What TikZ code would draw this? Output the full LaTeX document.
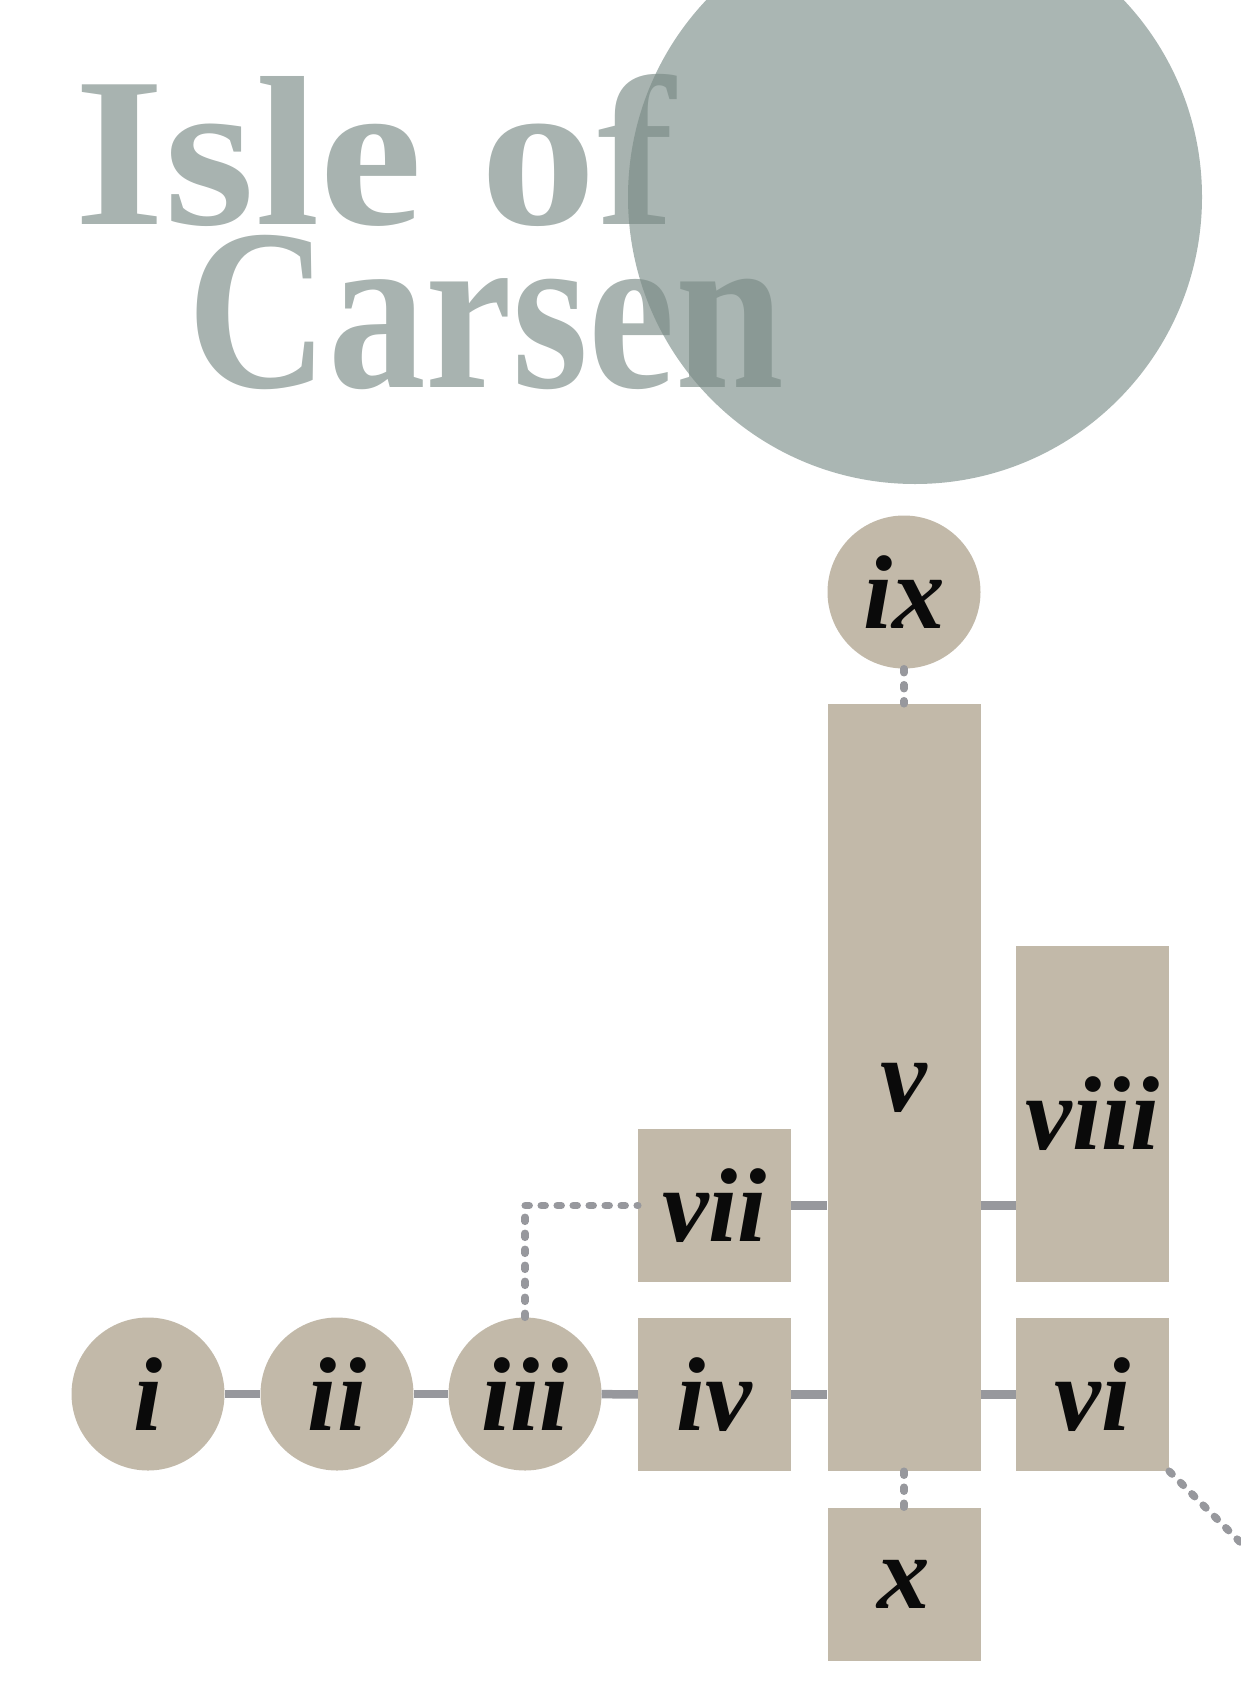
\documentclass[tikz,border=0pt]{standalone}
\usepackage{fontspec}
\setmainfont{Liberation Serif}
\usepackage{graphicx}
\definecolor{nodefill}{RGB}{194,185,169}
\definecolor{linegray}{RGB}{151,152,157}
\definecolor{sea}{RGB}{170,182,179}
\definecolor{titlecol}{RGB}{121,138,133}
\definecolor{ink}{RGB}{10,10,10}
\newcommand\lblfont{\fontsize{105}{105}\selectfont\bfseries\itshape}
\begin{document}
\begin{tikzpicture}[x=1pt,y=-1pt,
  circ/.style={circle, fill=nodefill, minimum size=153pt, inner sep=0pt, font=\lblfont, text=ink},
  sq/.style={rectangle, fill=nodefill, minimum width=153pt, minimum height=153pt, inner sep=0pt, font=\lblfont, text=ink},
  link/.style={draw=linegray, line width=8.5pt},
  dots/.style={draw=linegray, line width=7.5pt, line cap=round, dash pattern=on 4pt off 12pt},
  titletext/.style={anchor=base west, inner sep=0pt, text=titlecol, text opacity=0.65}]
\useasboundingbox (0,0) rectangle (1240,1705);
\fill[sea] (915,197) circle (287);
\node[titletext] (t1) at (74,224) {\resizebox{600pt}{150pt}{\bfseries Isle of}};
\node[titletext] (t2) at (187,387) {\resizebox{596pt}{152pt}{\bfseries Carsen}};
% nodes
\node[circ] (n1) at (148,1394) {i};
\node[circ] (n2) at (337,1394) {ii};
\node[circ] (n3) at (525,1394) {iii};
\node[sq] (n4) at (714.5,1394.5) {iv};
\node[sq] (n7) at (714.5,1205.5) {vii};
\node[sq, minimum height=767pt] (n5) at (904,1087.5) {v};
\node[circ] (n9) at (904,592) {ix};
\node[sq] (n10) at (904,1584) {x};
\node[sq, minimum height=336pt] (n8) at (1092.5,1114) {viii};
\node[sq] (n6) at (1092.5,1394.5) {vi};
% solid links
\draw[link] (n1) -- (n2);
\draw[link] (n2) -- (n3);
\draw[link] (n3) -- (n4);
\draw[link] (n4.east) -- (n4.east -| n5.west);
\draw[link] (n5.east |- n6.west) -- (n6.west);
\draw[link] (n7.east) -- (n7.east -| n5.west);
\draw[link] (n5.east |- n7.east) -- (n7.east -| n8.west);
% dotted links
\coordinate (off) at (1262,1564);
\draw[dots] (n3.north) -- (n3.north |- n7.west) -- (n7.west);
\draw[dots] (n9.south) -- (n5.north);
\draw[dots] (n5.south) -- (n10.north);
\draw[dots] (n6.south east) -- (off);
\end{tikzpicture}
\end{document}
